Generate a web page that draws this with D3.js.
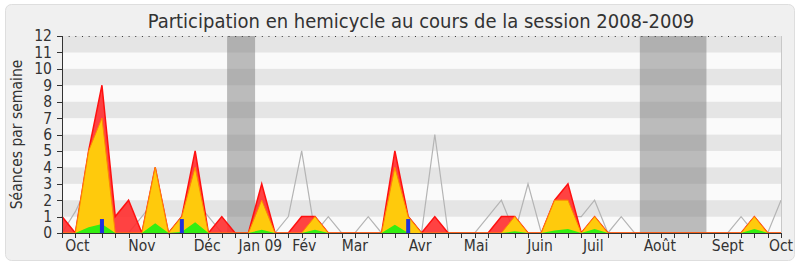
<!DOCTYPE html>
<meta charset="utf-8">
<style>
body { margin: 0; background: #fff; }
text {
  font-family: "DejaVu Sans Condensed", "DejaVu Sans", sans-serif;
  fill: #333;
}
.axis path, .axis line { stroke: #333; shape-rendering: crispEdges; }
</style>

<svg width="800" height="267"></svg>

<script src="https://d3js.org/d3.v7.min.js"></script>
<script>
// semaines de la session (0 = debut octobre 2008)
var weeks = d3.range(0, 55);

// seances en hemicycle (rouge), participations (jaune), interventions (vert)
var presences = [1,0,5,9,1,2,0,4,0,1,5,0,1,0,0,3,0,0,1,1,0,0,0,0,0,5,1,0,1,0,0,0,0,1,1,0,0,2,3,0,1,0,0,0,0,0,0,0,0,0,0,0,1,0,0];
var participations = [0,0,5,7,0,0,0,4,0,1,4,0,0,0,0,2,0,0,0,1,0,0,0,0,0,4,1,0,0,0,0,0,0,0,1,0,0,2,2,0,1,0,0,0,0,0,0,0,0,0,0,0,1,0,0];
var interventions = [0,0,0.35,0.55,0,0,0,0.6,0,0.08,0.65,0,0,0,0,0.2,0,0,0,0.2,0,0,0,0,0,0.5,0,0,0,0,0,0,0,0,0.1,0,0,0.15,0.25,0,0.25,0,0,0,0,0,0,0,0,0,0,0,0.25,0,0];
// mediane des deputes (ligne grise)
var mediane = [0,1.3,3,1,0,0,1,2,0,1,2,1,0,0,0,0,0,1,5,0,1,0,0,1,0,1,1,0,6,0,0,0,1,2,0,3,0,0,1,1,2,0,1,0,0,0,0,0,0,0,0,1,0,0,2];

// questions orales (barres bleues)
var questionsWeeks = [3, 9, 26];
var questionsValues = [0.85, 0.85, 0.85];

// vacances parlementaires
var vacancesStart = [12.4, 43.4];
var vacancesEnd = [14.5, 48.4];

// mois en abscisse
var monthLabels = ["Oct", "Nov", "Déc", "Jan 09", "Fév", "Mar", "Avr", "Mai", "Juin", "Juil", "Août", "Sept", "Oct"];
var monthPos = [1.15, 6, 10.9, 14.9, 18.2, 22, 26.9, 31.1, 35.9, 39.9, 44.9, 50, 54];

var svg = d3.select("svg");

var pLeft = 62, pRight = 781, pTop = 36, pBottom = 233;

var x = d3.scaleLinear().domain([0, 54]).range([pLeft, pRight]);
var y = d3.scaleLinear().domain([0, 12]).range([pBottom, pTop]);

// cadre
svg.append("rect")
    .attr("x", 5.5).attr("y", 4.5)
    .attr("width", 789).attr("height", 256)
    .attr("rx", 6)
    .style("fill", "#f0f0f0")
    .style("stroke", "#dedede");

svg.append("text")
    .attr("x", 421).attr("y", 28)
    .attr("text-anchor", "middle")
    .style("font-size", "20px")
    .text("Participation en hemicycle au cours de la session 2008-2009");

// bandes horizontales
svg.selectAll(".stripe")
    .data(d3.range(0, 12))
  .enter().append("rect")
    .attr("class", "stripe")
    .attr("x", pLeft)
    .attr("width", pRight - pLeft)
    .attr("y", function(d) { return y(d + 1); })
    .attr("height", function(d) { return y(d) - y(d + 1); })
    .style("fill", function(d) { return d % 2 ? "#e5e5e5" : "#fafafa"; });

svg.selectAll(".vacances")
    .data(vacancesStart)
  .enter().append("rect")
    .attr("class", "vacances")
    .attr("x", function(d) { return x(d); })
    .attr("width", function(d, i) { return x(vacancesEnd[i]) - x(d); })
    .attr("y", pTop)
    .attr("height", pBottom - pTop)
    .style("fill", "#7c7c7c")
    .style("opacity", 0.5);

var line = function(values) {
  return d3.line()
    .x(function(d) { return x(d); })
    .y(function(d, i) { return y(values[i]); })(weeks);
};
var area = function(values) {
  return d3.area()
    .x(function(d) { return x(d); })
    .y0(y(0))
    .y1(function(d, i) { return y(values[i]); })(weeks);
};

svg.append("path")
    .attr("d", line(mediane))
    .style("fill", "none")
    .style("stroke", "#b4b4b4")
    .style("stroke-width", 1.2);

svg.append("path")
    .attr("d", area(presences))
    .style("fill", "#ff2e2e")
    .style("opacity", 0.9);
svg.append("path")
    .attr("d", line(presences))
    .style("fill", "none")
    .style("stroke", "#ff1010")
    .style("stroke-width", 1.5);

svg.append("path")
    .attr("d", area(participations))
    .style("fill", "#ffd20a")
    .style("opacity", 0.95);
svg.append("path")
    .attr("d", line(participations))
    .style("fill", "none")
    .style("stroke", "#ff8a00")
    .style("stroke-width", 1);

svg.append("path")
    .attr("d", area(interventions))
    .style("fill", "#33ee11");

svg.selectAll(".question")
    .data(questionsWeeks)
  .enter().append("rect")
    .attr("class", "question")
    .attr("x", function(d) { return x(d) - 2; })
    .attr("width", 4)
    .attr("y", function(d, i) { return y(questionsValues[i]); })
    .attr("height", function(d, i) { return y(0) - y(questionsValues[i]); })
    .style("fill", "#2030dd");

// ligne pointillee du haut et bord droit
svg.append("line")
    .attr("x1", pLeft).attr("x2", pRight)
    .attr("y1", pTop + 0.5).attr("y2", pTop + 0.5)
    .style("stroke", "#333")
    .style("stroke-dasharray", "1,5.66");
svg.append("line")
    .attr("x1", pRight + 0.5).attr("x2", pRight + 0.5)
    .attr("y1", pTop).attr("y2", pBottom)
    .style("stroke", "#c8c8c8");

// axes
svg.append("g")
    .attr("class", "axis")
    .attr("transform", "translate(" + pLeft + ",0)")
    .call(d3.axisLeft(y).ticks(12).tickSize(5).tickSizeOuter(0).tickPadding(5))
    .selectAll("text")
    .style("font-size", "15.5px")
    .style("font-family", "\"DejaVu Sans Condensed\", sans-serif")
    .style("fill", "#333");

svg.append("g")
    .attr("class", "axis")
    .attr("transform", "translate(0," + pBottom + ")")
    .call(d3.axisBottom(x).tickValues(weeks).tickSize(5).tickSizeOuter(0).tickFormat(""));

svg.selectAll(".month")
    .data(monthLabels)
  .enter().append("text")
    .attr("class", "month")
    .attr("x", function(d, i) { return x(monthPos[i]); })
    .attr("y", 251)
    .attr("text-anchor", "middle")
    .style("font-size", "15.5px")
    .text(function(d) { return d; });

svg.append("text")
    .attr("transform", "translate(22," + ((pTop + pBottom) / 2) + ") rotate(-90)")
    .attr("text-anchor", "middle")
    .style("font-size", "15.5px")
    .text("Séances par semaine");
</script>
